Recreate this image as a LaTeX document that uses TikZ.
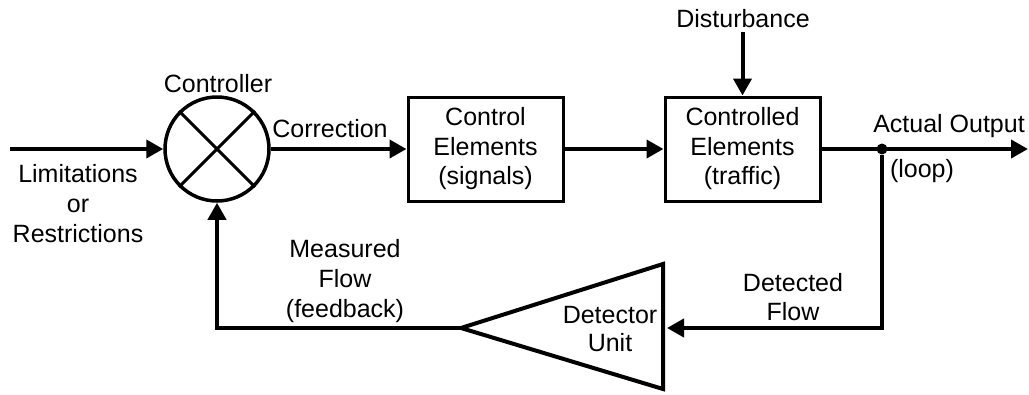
\documentclass[tikz,border=0pt]{standalone}
\usepackage{fontspec}
\setmainfont{Liberation Sans}
\usetikzlibrary{arrows.meta}
\begin{document}
\begin{tikzpicture}[x=1pt, y=-1pt]
	\tikzset{>={Triangle[length=17pt,width=18pt]}}
	\tikzset{every node/.style={font=\fontsize{25}{30}\selectfont, align=center}}
	\tikzset{block/.style={draw, line width=3pt, minimum width=155pt, minimum height=104pt, inner sep=0pt, font=\fontsize{25}{29.5}\selectfont}}
	\tikzset{wire/.style={line width=4pt}}
	\useasboundingbox (0,0) rectangle (1029,394);
	% controller and blocks
	\node[draw, circle, line width=3.5pt, minimum size=104pt] (ctrl) at (217,149) {};
	\draw[line width=3pt] (ctrl.45) -- (ctrl.225);
	\draw[line width=3pt] (ctrl.135) -- (ctrl.-45);
	\node[block] (ce) at (485.5,149) {Control\\Elements\\(signals)};
	\node[block] (cd) at (742.5,149) {Controlled\\Elements\\(traffic)};
	\node[circle, fill, inner sep=0pt, minimum size=11pt] (split) at (882,149) {};
	% detector
	\coordinate (dtip) at (461,328);
	\coordinate (dtop) at (663,264);
	\coordinate (dbot) at (663,389);
	\coordinate (dright) at (667,328);
	\draw[line width=4pt] (dtip) -- (dtop) -- (dbot) -- cycle;
	\coordinate (in) at (10,149);
	\coordinate (out) at (1028,149);
	\coordinate (dist) at (742.5,32);
	% labels
	\node[anchor=base] (ctrllbl) at (218,92) {Controller};
	\node[anchor=base] (corr) at (330,137) {Correction};
	\node[anchor=base] (distlbl) at (743,27) {Disturbance};
	\node[anchor=base] (actual) at (949,132) {Actual Output};
	\node[anchor=base] (loop) at (922,177) {(loop)};
	\node (limits) at (78,204) {Limitations\\or\\Restrictions};
	\node (measured) at (345,281) {Measured\\Flow\\(feedback)};
	\node[font=\fontsize{25}{29}\selectfont] (detected) at (793,297) {Detected\\Flow};
	\node[font=\fontsize{25}{28.5}\selectfont] (detector) at (610,329) {Detector\\Unit};
	% connectors
	\draw[wire,->] (in) -- (ctrl.west);
	\draw[wire,->] (ctrl.east) -- (ce.west);
	\draw[wire,->] (ce.east) -- (cd.west);
	\draw[wire,->] (cd.east) -- (out);
	\draw[wire,->] (dist) -- (cd.north);
	\draw[wire,->] (split) |- (dright);
	\draw[wire,->] (dtip) -| (ctrl.south);
\end{tikzpicture}
\end{document}
